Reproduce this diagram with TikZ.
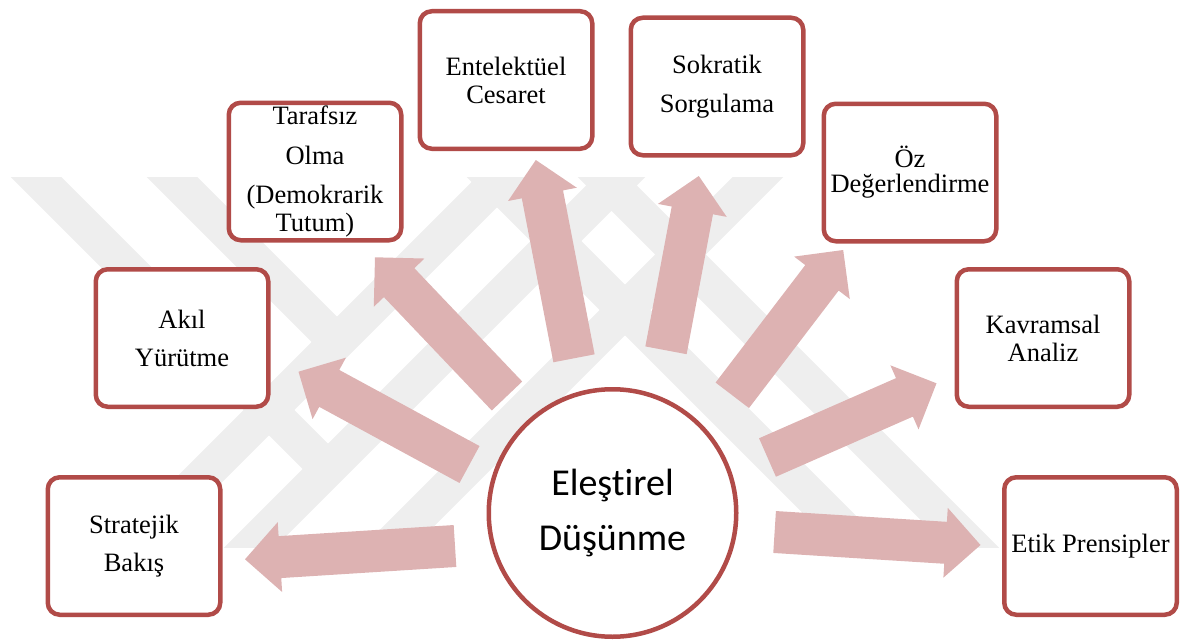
\documentclass[tikz,border=0pt]{standalone}
\usepackage{fontspec}
\setmainfont{Liberation Serif}
\newfontfamily\circlefont[Ligatures=NoCommon]{Carlito}
\usetikzlibrary{calc}

\definecolor{frame}{RGB}{177,75,72}
\definecolor{arrowpink}{RGB}{221,178,178}
\definecolor{markgray}{RGB}{238,238,238}

\tikzset{
  topic/.style={draw=frame, line width=4.5pt, fill=white, rounded corners=12pt,
    minimum width=172.5pt, minimum height=137.5pt, inner sep=0pt, align=center,
    font=\fontsize{26.5}{28}\selectfont},
  hub/.style={circle, draw=frame, line width=4.5pt, fill=white, minimum size=247.5pt,
    inner sep=0pt, align=center, font=\circlefont\fontsize{38}{55}\selectfont},
  wmband/.style={draw=markgray, line width=36pt, line cap=butt},
}

% thick block arrow from #1 (tail) to #2 (tip)
\newcommand\blockarrow[2]{%
  \coordinate (#1-base) at ($(#2)!35pt!(#1)$);
  \fill[arrowpink] ($(#1)!21pt!90:(#2)$) -- ($(#1-base)!21pt!-90:(#1)$)
    -- ($(#1-base)!35pt!-90:(#1)$) -- (#2) -- ($(#1-base)!35pt!90:(#1)$)
    -- ($(#1-base)!21pt!90:(#1)$) -- ($(#1)!21pt!-90:(#2)$) -- cycle;
}

\begin{document}
\begin{tikzpicture}[x=1pt, y=-1pt]
\useasboundingbox (0,0) rectangle (1181,642);

% faint diagonal background mark, cut to a horizontal strip
\begin{scope}
  \clip (0,177) rectangle (1181,547);
  \draw[wmband] (6,147)   -- (330,471);
  \draw[wmband] (142,147) -- (337,342);
  \draw[wmband] (532,147) -- (102,577);
  \draw[wmband] (650,147) -- (220,577);
  \draw[wmband] (788,147) -- (358,577);
  \draw[wmband] (462,147) -- (892,577);
  \draw[wmband] (573,147) -- (1003,577);
\end{scope}

% central idea
\node[hub] (core) at (612.5,513) {Eleştirel\\Düşünme};

% surrounding topics
\node[topic] (strat) at (134,546)   {Stratejik\\[10pt]Bakış};
\node[topic] (akil)  at (182,338)   {Akıl\\[10pt]Yürütme};
\node[topic] (taraf) at (315,171.5) {Tarafsız\\[12pt]Olma\\[11pt](Demokrarik\\Tutum)};
\node[topic] (entel) at (506,80)    {Entelektüel\\Cesaret};
\node[topic] (sokr)  at (717,86.5)  {Sokratik\\[11pt]Sorgulama};
\node[topic] (oz)    at (910,172.5) {Öz\\[-3pt]Değerlendirme};
\node[topic] (kavr)  at (1043,338)  {Kavramsal\\Analiz};
\node[topic] (etik)  at (1090.5,546){Etik Prensipler};

% arrow ends
\coordinate (strat-tail) at (455,546);   \coordinate (strat-tip) at (245,559.3);
\coordinate (akil-tail)  at (469.5,464.5); \coordinate (akil-tip) at (298.5,371.7);
\coordinate (taraf-tail) at (507,396);   \coordinate (taraf-tip) at (375,257.3);
\coordinate (entel-tail) at (574,358.3); \coordinate (entel-tip) at (535.8,160);
\coordinate (sokr-tail)  at (666,350.3); \coordinate (sokr-tip)  at (698.8,176);
\coordinate (oz-tail)    at (732.3,395.3); \coordinate (oz-tip)  at (843.2,250);
\coordinate (kavr-tail)  at (767.5,457.5); \coordinate (kavr-tip) at (936.5,383.3);
\coordinate (etik-tail)  at (774.6,532); \coordinate (etik-tip)  at (980.5,545);

\blockarrow{strat-tail}{strat-tip}
\blockarrow{akil-tail}{akil-tip}
\blockarrow{taraf-tail}{taraf-tip}
\blockarrow{entel-tail}{entel-tip}
\blockarrow{sokr-tail}{sokr-tip}
\blockarrow{oz-tail}{oz-tip}
\blockarrow{kavr-tail}{kavr-tip}
\blockarrow{etik-tail}{etik-tip}
\end{tikzpicture}
\end{document}
